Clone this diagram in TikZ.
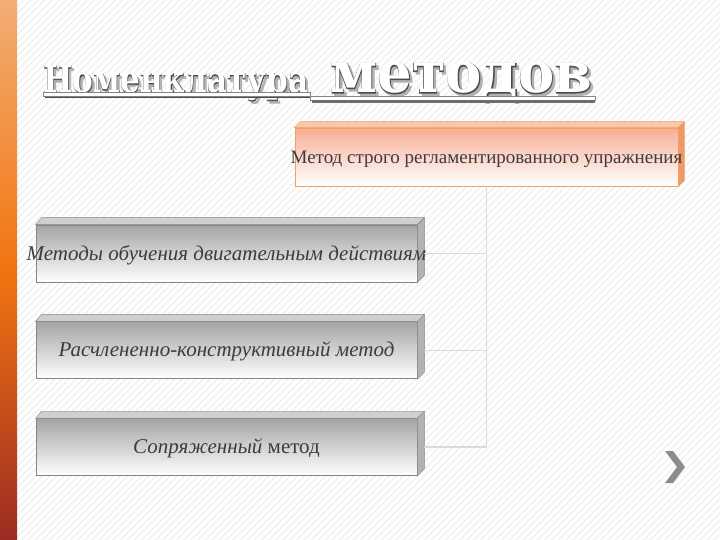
\documentclass[tikz,border=0pt]{standalone}
\usepackage{fontspec}
\setmainfont{Liberation Serif}
\newfontface\titlefill{DejaVu Serif Bold}
\newfontface\titleedge{DejaVu Serif Bold}[FakeBold=2]
\usetikzlibrary{positioning,calc,patterns.meta}

\definecolor{barTop}{HTML}{F2AE74}
\definecolor{barMid}{HTML}{F27410}
\definecolor{barBot}{HTML}{9C2C24}
\definecolor{salmon}{HTML}{F7AE94}
\definecolor{peachEdge}{HTML}{F0A060}
\definecolor{peachTop}{HTML}{F8C8AA}
\definecolor{peachSide}{HTML}{EE9A66}
\definecolor{boxGray}{HTML}{A4A4A4}
\definecolor{edgeGray}{HTML}{858585}
\definecolor{bevelGray}{HTML}{CFCFCF}
\definecolor{sideGray}{HTML}{B2B2B2}
\definecolor{connGray}{HTML}{DADADA}
\definecolor{inkGray}{HTML}{3C3C3C}
\definecolor{hatchGray}{HTML}{F2F2F2}
\definecolor{titleInk}{HTML}{4A4A4A}

\tikzset{
  front/.style={draw=edgeGray, line width=0.8pt, top color=boxGray, bottom color=white,
    minimum width=381pt, minimum height=57pt, inner sep=0pt},
  redfront/.style={front, draw=peachEdge, top color=salmon, bottom color=white,
    minimum width=383pt, minimum height=58pt},
  boxtext/.style={font=\fontsize{21}{24}\selectfont\itshape, text=inkGray, inner sep=0pt},
  toptext/.style={font=\fontsize{19}{22}\selectfont, text=inkGray, inner sep=0pt},
  conn/.style={draw=connGray, line width=1.5pt},
  titletext/.style={inner sep=0pt, anchor=base west}
}

\begin{document}
\begin{tikzpicture}[x=1pt,y=-1pt]
        \useasboundingbox (0,0) rectangle (720,540);

        % background
        \fill[white] (0,0) rectangle (720,540);
        \fill[pattern={Lines[angle=45,distance=5pt,line width=1.6pt]}, pattern color=hatchGray] (0,0) rectangle (720,540);
        \shade[top color=barTop, bottom color=barBot, middle color=barMid] (0,0) rectangle (17,540);

        % title
        \node[titletext, text=black!30] (shadow1) at (45.5,95.5) {\resizebox{265pt}{\height}{\titleedge\fontsize{37}{37}\selectfont Номенклатура}};
        \node[titletext, text=titleInk] (edge1) at (43,93) {\resizebox{265pt}{\height}{\titleedge\fontsize{37}{37}\selectfont Номенклатура}};
        \node[titletext, text=white] (title1) at (43,93) {\resizebox{265pt}{\height}{\titlefill\fontsize{37}{37}\selectfont Номенклатура}};
        \node[titletext, text=black!30] (shadow2) at (332.5,95.5) {\resizebox{262pt}{\height}{\titleedge\fontsize{57}{57}\selectfont методов}};
        \node[titletext, text=titleInk] (edge2) at (330,93) {\resizebox{262pt}{\height}{\titleedge\fontsize{57}{57}\selectfont методов}};
        \node[titletext, text=white] (title2) at (330,93) {\resizebox{262pt}{\height}{\titlefill\fontsize{57}{57}\selectfont методов}};
        \draw[edgeGray, fill=white] (43,92) rectangle (310,96);
        \draw[titleInk, line width=1.5pt] (45,97.5) -- (312,97.5);
        \draw[edgeGray, fill=white] (310,96) rectangle (595,100);
        \fill[titleInk!80] (312,100) rectangle (595,103);

        % top box
        \node[redfront] (strict) at (486.5,157) {};
        \draw[peachEdge, fill=peachTop] (strict.north west) -- ++(6,-6) -- ($(strict.north east)+(6,-6)$) -- (strict.north east) -- cycle;
        \draw[peachEdge, fill=peachSide] (strict.north east) -- ++(6,-6) -- ($(strict.south east)+(6,-6)$) -- (strict.south east) -- cycle;
        \node[toptext] (tstrict) at ($(strict.center)+(0,2)$) {Метод строго регламентированного упражнения};

        % gray boxes
        \node[front] (motor) at (226.5,253.5) {};
        \node[front, below=39pt of motor] (split) {};
        \node[front, below=39pt of split] (conj) {};

        \draw[edgeGray, fill=bevelGray] (motor.north west) -- ++(6,-7) -- ($(motor.north east)+(7,-7)$) -- (motor.north east) -- cycle;
        \draw[edgeGray, fill=sideGray] (motor.north east) -- ++(7,-7) -- ($(motor.south east)+(7,-7)$) -- (motor.south east) -- cycle;
        \draw[edgeGray, fill=bevelGray] (split.north west) -- ++(6,-7) -- ($(split.north east)+(7,-7)$) -- (split.north east) -- cycle;
        \draw[edgeGray, fill=sideGray] (split.north east) -- ++(7,-7) -- ($(split.south east)+(7,-7)$) -- (split.south east) -- cycle;
        \draw[edgeGray, fill=bevelGray] (conj.north west) -- ++(6,-7) -- ($(conj.north east)+(7,-7)$) -- (conj.north east) -- cycle;
        \draw[edgeGray, fill=sideGray] (conj.north east) -- ++(7,-7) -- ($(conj.south east)+(7,-7)$) -- (conj.south east) -- cycle;

        \node[boxtext] (tmotor) at ($(motor.center)+(0,2)$) {Методы обучения двигательным действиям};
        \node[boxtext] (tsplit) at ($(split.center)+(0,1)$) {Расчлененно-конструктивный метод};
        \node[boxtext] (tconj) at ($(conj.center)+(0,1)$) {Сопряженный \upshape метод};

        % connectors
        \coordinate (s1) at ($(motor.east)+(7,0)$);
        \coordinate (s2) at ($(split.east)+(7,0)$);
        \coordinate (s3) at ($(conj.east)+(7,0)$);
        \draw[conn] (strict.south) |- (s3);
        \draw[conn] (s1) -- (s1 -| strict.south);
        \draw[conn] (s2) -- (s2 -| strict.south);

        % next arrow
        \fill[black!45] (665,451) -- (673,451) -- (685,467) -- (673,483) -- (665,483) -- (677,467) -- cycle;

\end{tikzpicture}
\end{document}
